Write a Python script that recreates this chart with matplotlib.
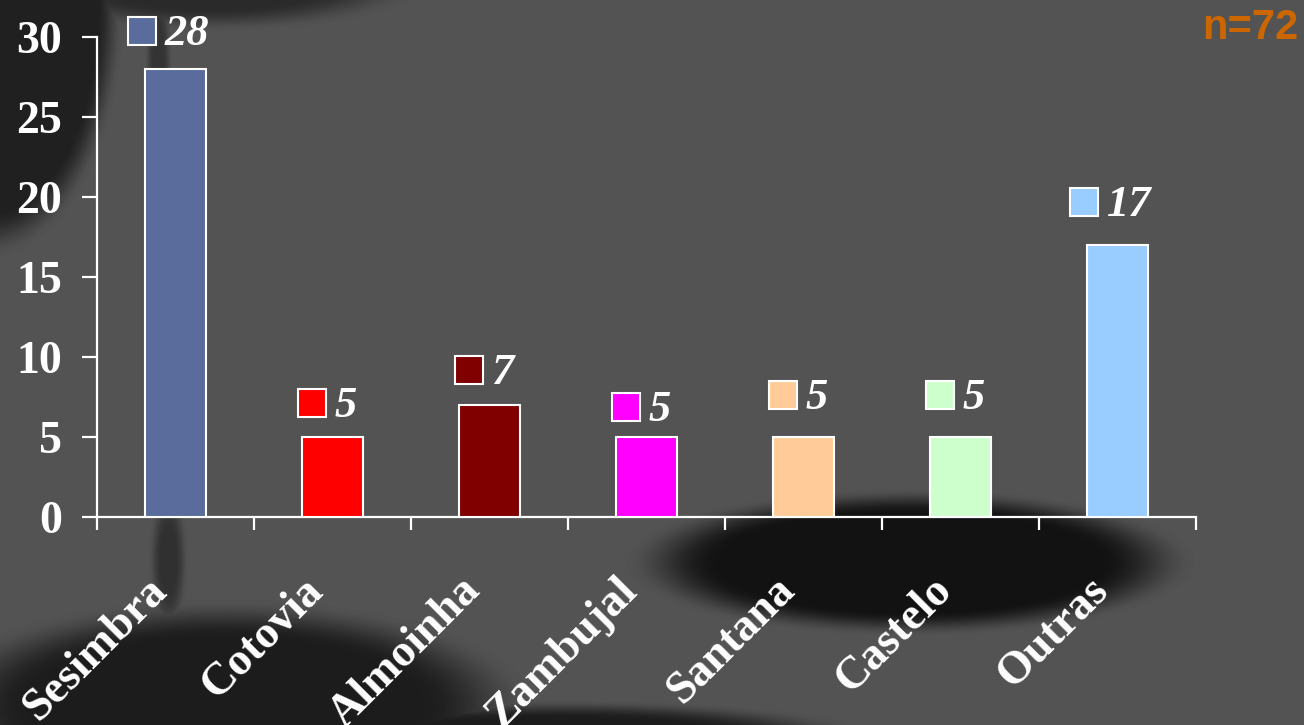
import numpy as np
import matplotlib
matplotlib.use("Agg")
import matplotlib.pyplot as plt
from matplotlib.transforms import offset_copy

categories = ["Sesimbra", "Cotovia", "Almoinha", "Zambujal", "Santana", "Castelo", "Outras"]
counts = [28, 5, 7, 5, 5, 5, 17]
colors = ["#596C9B", "#FF0000", "#800000", "#FF00FF", "#FFCC99", "#CCFFCC", "#99CCFF"]
yticks = [0, 5, 10, 15, 20, 25, 30]
total_label = "n=72"

# label box offsets (pixels above bar top) as placed in the original
label_rise = [38, 34, 35, 30, 42, 42, 43]

W, H = 1304, 725
fig = plt.figure(figsize=(W / 100, H / 100), dpi=100)

# blurred photo-like backdrop
yy, xx = np.mgrid[0:H, 0:W].astype(float)


def blob(cx, cy, rx, ry, soft=0.45):
    d = np.sqrt(((xx - cx) / rx) ** 2 + ((yy - cy) / ry) ** 2)
    t = np.clip((1.0 - d) / soft + 0.5, 0, 1)
    return t * t * (3 - 2 * t)


dark = np.zeros((H, W))
dark = np.maximum(dark, 0.75 * blob(-15, 10, 125, 225, 0.22))
dark = np.maximum(dark, 0.6 * blob(210, -20, 170, 40, 0.6))
dark = np.maximum(dark, 0.45 * blob(158, 90, 10, 110, 0.9))
dark = np.maximum(dark, 0.5 * blob(168, 560, 14, 55, 0.9))
dark = np.maximum(dark, 0.8 * blob(225, 705, 255, 88, 0.45))
dark = np.maximum(dark, 0.95 * blob(910, 562, 240, 62, 0.4))
dark = np.maximum(dark, 0.8 * blob(560, 738, 250, 30, 0.6))
base = 0x53 / 255
img = base * (1 - dark) + 0.06 * dark
bg = fig.add_axes([0, 0, 1, 1])
bg.imshow(img, cmap="gray", vmin=0, vmax=1, aspect="auto", interpolation="bilinear")
bg.axis("off")

ax = fig.add_axes([97 / W, 1 - 517 / H, (1196 - 97) / W, (517 - 37) / H])
ax.set_facecolor("none")
x = np.arange(len(categories))
ax.bar(x, counts, width=0.39, color=colors, edgecolor="white", linewidth=1.5, zorder=3)
ax.set_xlim(-0.5, len(categories) - 0.5)
ax.set_ylim(0, 30)

for s in ["top", "right"]:
    ax.spines[s].set_visible(False)
for s in ["left", "bottom"]:
    ax.spines[s].set_color("white")
    ax.spines[s].set_linewidth(1.6)

serif = "Liberation Serif"
ax.set_yticks(yticks)
ax.set_yticklabels([str(v) for v in yticks], fontsize=33, fontweight="bold",
                   family=serif, color="white")
ax.tick_params(axis="y", colors="white", length=11, width=1.6, pad=14)

ax.set_xticks(np.arange(len(categories) + 1) - 0.5)
ax.set_xticklabels([])
ax.tick_params(axis="x", colors="white", length=9, width=1.6)

for i, name in enumerate(categories):
    tr = offset_copy(ax.transData, fig=fig, x=-30, y=-52, units="dots")
    ax.text(i, 0, name, transform=tr, rotation=45, ha="right", va="top",
            rotation_mode="anchor", fontsize=33, fontweight="bold",
            family=serif, color="white", clip_on=False)

for i, (v, c) in enumerate(zip(counts, colors)):
    txt = str(v)
    left = -34 if len(txt) > 1 else -21
    tr = offset_copy(ax.transData, fig=fig, x=left, y=label_rise[i], units="dots")
    ax.plot([i], [v], marker="s", markersize=19.5, color=c, markeredgecolor="white",
            markeredgewidth=1.5, transform=tr, clip_on=False, zorder=4)
    tr2 = offset_copy(ax.transData, fig=fig, x=left + 23, y=label_rise[i] - 3, units="dots")
    ax.text(i, v, txt, transform=tr2, ha="left", va="center", fontsize=32,
            fontstyle="italic", fontweight="bold", family=serif, color="white", zorder=4)

fig.text(1298 / W, 1 - 8 / H, total_label, ha="right", va="top", fontsize=30,
         fontweight="bold", family="Liberation Sans", color="#CC6600")

fig.savefig("out.png", dpi=100)
